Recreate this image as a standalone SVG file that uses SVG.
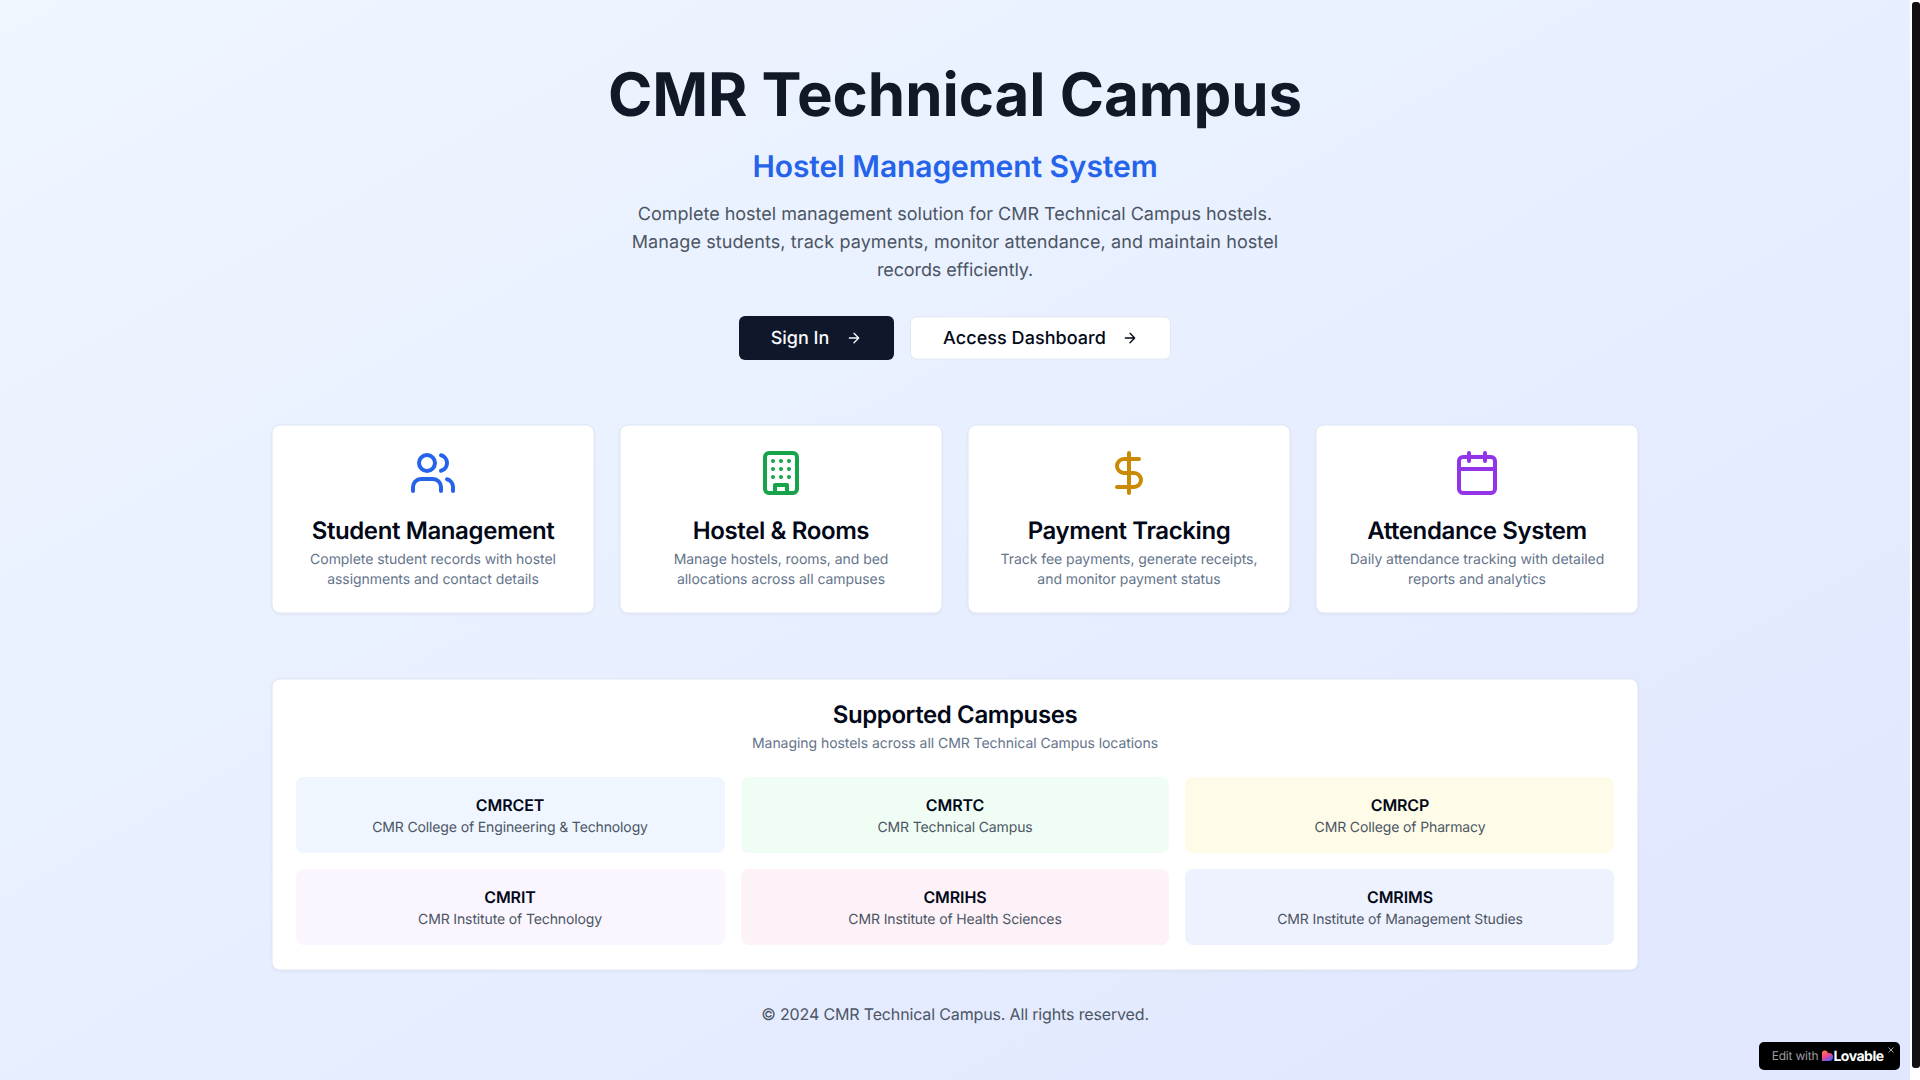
<svg xmlns="http://www.w3.org/2000/svg" width="1920" height="1080" viewBox="0 0 1920 1080">
<style>
text{font-family:Inter,"Liberation Sans",sans-serif;text-anchor:middle;text-rendering:geometricPrecision}
.card{fill:#fff;stroke:#dfe6f2;stroke-width:1;filter:url(#sh)}
.ic{fill:none;stroke-width:2;stroke-linecap:round;stroke-linejoin:round}
.h3{font-size:24px;font-weight:600;fill:#020817;letter-spacing:-.39px}
.d{font-size:14px;fill:#64748b;letter-spacing:-.05px}
.cn{font-size:16px;font-weight:600;fill:#020817;letter-spacing:-.1px}
.cs{font-size:14px;fill:#4b5563;letter-spacing:-.13px}
.p{font-size:18px;fill:#4b5563}
</style>
<defs>
<linearGradient id="bg" gradientUnits="userSpaceOnUse" x1="492" y1="-278" x2="1418" y2="1358"><stop offset="0" stop-color="#eff6ff"/><stop offset="1" stop-color="#e0e7ff"/></linearGradient>
<linearGradient id="lg" x1="0" y1="0" x2=".6" y2="1"><stop offset="0" stop-color="#ff8a2b"/><stop offset=".55" stop-color="#f0468c"/><stop offset="1" stop-color="#5b5cf6"/></linearGradient>
<filter id="sh" x="-5%" y="-5%" width="110%" height="110%"><feDropShadow dx="0" dy="1" stdDeviation="1" flood-color="#000" flood-opacity=".06"/></filter>
<g id="arr"><path class="ic" d="M5 12h14M12 5l7 7-7 7"/></g>
</defs>
<rect width="1920" height="1080" fill="url(#bg)"/>
<rect x="1910" width="10" height="1080" fill="#fff"/>
<rect x="1912" y="2" width="8" height="1066" rx="3" fill="#111"/>

<g id="hero">
<text x="955" y="116" font-size="60" font-weight="700" fill="#111827" letter-spacing="-.05">CMR Technical Campus</text>
<text x="955" y="177" font-size="30" font-weight="600" fill="#2563eb" letter-spacing="-.1">Hostel Management System</text>
<text class="p" x="955" y="220">Complete hostel management solution for CMR Technical Campus hostels.</text>
<text class="p" x="955" y="248" letter-spacing=".1">Manage students, track payments, monitor attendance, and maintain hostel</text>
<text class="p" x="955" y="276" letter-spacing="-.1">records efficiently.</text>
</g>
<g id="btn-signin">
<rect x="739" y="316" width="155" height="44" rx="6" fill="#0f172a"/>
<text x="800" y="344" font-size="18" font-weight="500" fill="#f8fafc">Sign In</text>
<use href="#arr" transform="translate(846 330) scale(.667)" stroke="#f8fafc"/>
</g>
<g id="btn-dashboard">
<rect x="910.500" y="317" width="260" height="42" rx="6" fill="#fff" stroke="#e2e8f0"/>
<text x="1024.500" y="344" font-size="18" font-weight="500" fill="#020817" letter-spacing=".05">Access Dashboard</text>
<use href="#arr" transform="translate(1122 330) scale(.667)" stroke="#020817"/>
</g>

<g id="card-students">
<rect class="card" x="272" y="425" width="322" height="188" rx="8"/>
<g class="ic" stroke="#2563eb" transform="translate(409 449) scale(2)"><path d="M16 21v-2a4 4 0 0 0-4-4H6a4 4 0 0 0-4 4v2"/><circle cx="9" cy="7" r="4"/><path d="M22 21v-2a4 4 0 0 0-3-3.870"/><path d="M16 3.130a4 4 0 0 1 0 7.750"/></g>
<text class="h3" x="433" y="539">Student Management</text>
<text class="d" x="433" y="564">Complete student records with hostel</text>
<text class="d" x="433" y="584">assignments and contact details</text>
</g>
<g id="card-hostel">
<rect class="card" x="620" y="425" width="322" height="188" rx="8"/>
<g class="ic" stroke="#16a34a" transform="translate(757 449) scale(2)"><rect x="4" y="2" width="16" height="20" rx="2"/><path d="M9 22v-4h6v4M8 6h.01M16 6h.01M12 6h.01M12 10h.01M12 14h.01M16 10h.01M16 14h.01M8 10h.01M8 14h.01"/></g>
<text class="h3" x="781" y="539">Hostel &amp; Rooms</text>
<text class="d" x="781" y="564">Manage hostels, rooms, and bed</text>
<text class="d" x="781" y="584" letter-spacing="-.16">allocations across all campuses</text>
</g>
<g id="card-payment">
<rect class="card" x="968" y="425" width="322" height="188" rx="8"/>
<g class="ic" stroke="#ca8a04" transform="translate(1105 449) scale(2)"><path d="M12 2v20M17 5H9.500a3.500 3.500 0 0 0 0 7h5a3.500 3.500 0 0 1 0 7H6"/></g>
<text class="h3" x="1129" y="539">Payment Tracking</text>
<text class="d" x="1129" y="564">Track fee payments, generate receipts,</text>
<text class="d" x="1129" y="584">and monitor payment status</text>
</g>
<g id="card-attendance">
<rect class="card" x="1316" y="425" width="322" height="188" rx="8"/>
<g class="ic" stroke="#9333ea" transform="translate(1453 449) scale(2)"><rect x="3" y="4" width="18" height="18" rx="2"/><path d="M16 2v4M8 2v4M3 10h18"/></g>
<text class="h3" x="1477" y="539">Attendance System</text>
<text class="d" x="1477" y="564">Daily attendance tracking with detailed</text>
<text class="d" x="1477" y="584">reports and analytics</text>
</g>

<g id="campuses-panel">
<rect class="card" x="272" y="679" width="1366" height="291" rx="8"/>
<text class="h3" x="955" y="723">Supported Campuses</text>
<text class="d" x="955" y="748" letter-spacing="-.126">Managing hostels across all CMR Technical Campus locations</text>
</g>
<g id="campus-cmrcet"><rect x="296" y="777" width="429" height="76" rx="8" fill="#eff6ff"/><text class="cn" x="510" y="811">CMRCET</text><text class="cs" x="510" y="832">CMR College of Engineering &amp; Technology</text></g>
<g id="campus-cmrtc"><rect x="741" y="777" width="428" height="76" rx="8" fill="#f0fdf4"/><text class="cn" x="955" y="811">CMRTC</text><text class="cs" x="955" y="832">CMR Technical Campus</text></g>
<g id="campus-cmrcp"><rect x="1185" y="777" width="429" height="76" rx="8" fill="#fefce8"/><text class="cn" x="1400" y="811">CMRCP</text><text class="cs" x="1400" y="832">CMR College of Pharmacy</text></g>
<g id="campus-cmrit"><rect x="296" y="869" width="429" height="76" rx="8" fill="#faf5ff"/><text class="cn" x="510" y="903">CMRIT</text><text class="cs" x="510" y="924">CMR Institute of Technology</text></g>
<g id="campus-cmrihs"><rect x="741" y="869" width="428" height="76" rx="8" fill="#fdf2f8"/><text class="cn" x="955" y="903">CMRIHS</text><text class="cs" x="955" y="924">CMR Institute of Health Sciences</text></g>
<g id="campus-cmrims"><rect x="1185" y="869" width="429" height="76" rx="8" fill="#eef2ff"/><text class="cn" x="1400" y="903">CMRIMS</text><text class="cs" x="1400" y="924">CMR Institute of Management Studies</text></g>

<text x="955" y="1020" font-size="16" fill="#4b5563" letter-spacing="-.15">© 2024 CMR Technical Campus. All rights reserved.</text>

<g id="lovable-badge">
<rect x="1759" y="1042" width="141" height="28" rx="5" fill="#000"/>
<text x="1795" y="1060" font-size="12" fill="#9a9aa2" letter-spacing="-.2">Edit with</text>
<path d="M1822 1061v-7a3 3 0 0 1 6-1h1a4 4 0 0 1 0 8z" fill="url(#lg)"/>
<text x="1858.500" y="1061" font-size="14" font-weight="700" fill="#fff" letter-spacing="-.5">Lovable</text>
<path d="M1888.500 1047.500l5 5m0-5l-5 5" stroke="#aaa" fill="none"/>
</g>
</svg>
